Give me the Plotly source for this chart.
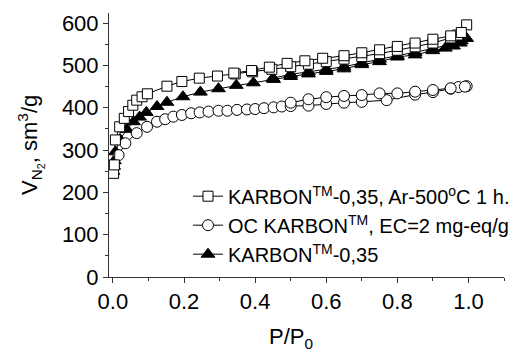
import plotly.graph_objects as go

# ---- data ----
sq_name = "KARBON<sup>TM</sup>-0,35, Ar-500<sup>o</sup>C 1 h."
sq_ads_x = [0.002, 0.004, 0.007, 0.019, 0.032, 0.044, 0.056, 0.067, 0.082, 0.097, 0.152, 0.194,
            0.243, 0.294, 0.344, 0.393, 0.447, 0.50, 0.55, 0.60, 0.65, 0.70, 0.75, 0.80, 0.85,
            0.90, 0.95, 0.97, 0.995]
sq_ads_y = [245, 265, 324, 355, 375, 391, 406, 418, 426, 433, 451, 462,
            470, 475, 480, 485, 491, 497, 503, 509, 515, 521, 528, 536, 544,
            553, 565, 572, 596]
sq_des_x = [0.98, 0.95, 0.90, 0.85, 0.80, 0.75, 0.70, 0.65, 0.59, 0.54, 0.49, 0.44, 0.39, 0.34]
sq_des_y = [578, 570, 562, 553, 545, 537, 530, 523, 517, 511, 505, 496, 488, 482]

ci_name = "OC KARBON<sup>TM</sup>, EC=2 mg-eq/g"
ci_ads_x = [0.0, 0.002, 0.016, 0.035, 0.067, 0.096, 0.124, 0.147, 0.17, 0.194, 0.22, 0.244,
            0.269, 0.297, 0.322, 0.349, 0.377, 0.40, 0.425, 0.452, 0.475, 0.50, 0.55, 0.60,
            0.65, 0.70, 0.77, 0.85, 0.90, 0.95, 0.972, 0.995]
ci_ads_y = [248, 262, 288, 316, 340, 355, 367, 373, 379, 383, 387, 389,
            391, 393, 393, 395, 396, 397, 399, 401, 403, 404, 405, 409,
            412, 414, 418, 431, 437, 445, 449, 451]
ci_des_x = [0.99, 0.95, 0.90, 0.85, 0.80, 0.75, 0.70, 0.65, 0.60, 0.55, 0.50]
ci_des_y = [450, 446, 442, 438, 434, 434, 430, 428, 425, 420, 412]

tr_name = "KARBON<sup>TM</sup>-0,35"
tr_ads_x = [0.0, 0.002, 0.004, 0.007, 0.02, 0.039, 0.058, 0.075, 0.094, 0.124, 0.152, 0.197,
            0.246, 0.297, 0.347, 0.395, 0.452, 0.50, 0.55, 0.60, 0.65, 0.70, 0.75, 0.80,
            0.85, 0.90, 0.935, 0.958, 0.977, 0.995]
tr_ads_y = [250, 262, 275, 296, 325, 349, 367, 378, 389, 403, 413, 426,
            437, 445, 453, 459, 467, 474, 480, 486, 492, 502, 509, 520,
            525, 535, 541, 546, 553, 564]
tr_des_x = [0.98, 0.95, 0.90, 0.85, 0.80, 0.75, 0.70, 0.65, 0.60, 0.55, 0.50, 0.45]
tr_des_y = [558, 550, 540, 531, 523, 515, 506, 497, 491, 485, 479, 470]

FONT = "Liberation Sans, Arial, sans-serif"

fig = go.Figure()
fig.add_trace(go.Scatter(
    x=tr_ads_x + tr_des_x, y=tr_ads_y + tr_des_y, name=tr_name, mode="lines+markers",
    line=dict(color="black", width=1),
    marker=dict(symbol="triangle-up", size=12, color="black", line=dict(color="black", width=1)),
    showlegend=False))
fig.add_trace(go.Scatter(
    x=ci_ads_x + ci_des_x, y=ci_ads_y + ci_des_y, name=ci_name, mode="lines+markers",
    line=dict(color="black", width=1),
    marker=dict(symbol="circle", size=11, color="white", line=dict(color="black", width=1)),
    legendrank=2))
fig.add_trace(go.Scatter(
    x=sq_ads_x + sq_des_x, y=sq_ads_y + sq_des_y, name=sq_name, mode="lines+markers",
    line=dict(color="black", width=1),
    marker=dict(symbol="square", size=10, color="white", line=dict(color="black", width=1)),
    legendrank=1))
# legend entry for triangles (placed last in legend)
fig.add_trace(go.Scatter(
    x=[None], y=[None], name=tr_name, mode="lines+markers",
    line=dict(color="black", width=1),
    marker=dict(symbol="triangle-up", size=12, color="black", line=dict(color="black", width=1)),
    legendrank=3))

axis_common = dict(
    showline=True, linecolor="#333333", linewidth=1, showgrid=False, zeroline=False,
    ticks="outside", ticklen=5, tickwidth=1, tickcolor="#333333",
    tickfont=dict(family=FONT, size=22, color="black"),
)

fig.update_xaxes(range=[-0.011, 1.10], tick0=0, dtick=0.2, tickformat=".1f",
                 minor=dict(dtick=0.1, ticks="outside", ticklen=3, tickwidth=1,
                            tickcolor="#333333", showgrid=False),
                 **axis_common)
fig.update_yaxes(range=[0, 624], tick0=0, dtick=100,
                 minor=dict(dtick=50, ticks="outside", ticklen=3, tickwidth=1,
                            tickcolor="#333333", showgrid=False),
                 **axis_common)

fig.update_layout(
    width=518, height=358,
    margin=dict(l=109, r=14, t=13, b=81, autoexpand=False),
    paper_bgcolor="white", plot_bgcolor="white",
    font=dict(family=FONT, color="black"),
    legend=dict(x=0.20, y=0.38, xanchor="left", yanchor="top",
                bgcolor="rgba(0,0,0,0)", font=dict(family=FONT, size=20, color="black"),
                tracegroupgap=0),
    annotations=[
        dict(text="V<sub>N<sub>2</sub></sub>, sm<sup>3</sup>/g", xref="paper", yref="paper",
             x=-109 / 395 + 30 / 395, y=0.5, textangle=-90, showarrow=False,
             xanchor="center", yanchor="middle", font=dict(family=FONT, size=22, color="black")),
        dict(text="P/P<sub>0</sub>", xref="x", yref="paper", x=0.5, y=-(338 - 277) / 264,
             showarrow=False, xanchor="center", yanchor="middle",
             font=dict(family=FONT, size=22, color="black")),
    ],
)

fig.write_html("out.html")
